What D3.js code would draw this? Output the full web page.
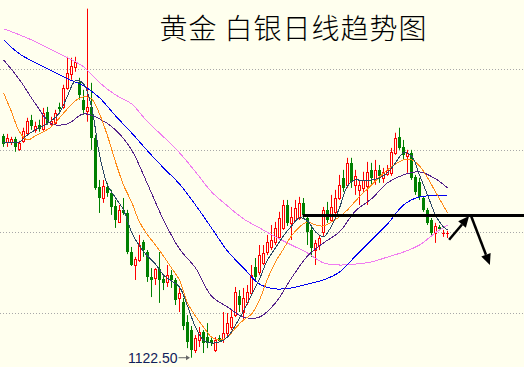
<!DOCTYPE html>
<html>
<head>
<meta charset="utf-8">
<script src="https://cdnjs.cloudflare.com/ajax/libs/d3/7.8.5/d3.min.js"></script>
<style>
  html, body { margin: 0; padding: 0; background: #ffffee; overflow: hidden; }
  svg { display: block; }
</style>
</head>
<body>
<div class="chart"></div>
<script>
/* Chart data
--------------------------------------------------- */
const title = '黄金 白银日线趋势图';

const opens = [
  1258.9, 1255.2, 1255.2, 1257.1, 1250.9, 1255.8, 1260.8, 1268.8, 1262.6, 1265.7,
  1263.3, 1273.7, 1266.3, 1267.0, 1276.7, 1276.7, 1288.4, 1297.0, 1301.4, 1292.2,
  1281.1, 1274.3, 1276.7, 1257.7, 1227.5, 1220.7, 1227.5, 1223.8, 1215.8, 1206.0,
  1213.4, 1211.6, 1187.5, 1179.5, 1182.6, 1193.7, 1187.5, 1172.1, 1171.5, 1177.0,
  1170.9, 1169.1, 1173.3, 1170.3, 1159.2, 1156.8, 1144.5, 1139.5, 1127.2, 1133.4,
  1138.3, 1135.2, 1133.4, 1127.2, 1134.6, 1134.0, 1137.7, 1141.4, 1148.7, 1160.5,
  1150.6, 1156.8, 1162.3, 1178.3, 1175.2, 1180.8, 1187.5, 1190.6, 1193.7, 1196.8,
  1202.3, 1216.4, 1205.4, 1207.2, 1208.4, 1217.7, 1208.4, 1201.1, 1188.7, 1191.8,
  1199.9, 1213.4, 1207.2, 1212.2, 1220.7, 1233.1, 1228.8, 1242.3, 1228.8, 1225.7,
  1226.9, 1228.1, 1238.0, 1231.8, 1238.0, 1233.1, 1235.5, 1236.2, 1248.5, 1258.3,
  1252.1, 1246.6, 1248.5, 1233.7, 1230.6, 1220.7, 1213.4, 1207.2, 1199.3, 1202.9,
  1199.0, 1199.0
];
const closes = [
  1253.9, 1257.7, 1257.1, 1252.1, 1254.6, 1262.0, 1268.2, 1265.1, 1265.1, 1263.3,
  1273.1, 1267.0, 1268.2, 1273.1, 1275.5, 1288.4, 1297.7, 1302.0, 1304.5, 1284.1,
  1274.9, 1276.7, 1257.7, 1226.9, 1220.7, 1228.1, 1223.8, 1215.2, 1207.2, 1213.4,
  1211.6, 1187.5, 1179.5, 1183.2, 1191.8, 1188.7, 1172.1, 1170.3, 1177.0, 1170.3,
  1168.5, 1173.3, 1170.3, 1158.0, 1162.3, 1142.0, 1132.2, 1127.2, 1134.6, 1138.3,
  1131.6, 1131.6, 1131.6, 1133.4, 1132.8, 1137.7, 1143.8, 1147.5, 1162.9, 1154.9,
  1159.2, 1162.9, 1173.3, 1172.1, 1185.6, 1186.9, 1193.7, 1194.9, 1202.3, 1208.4,
  1216.4, 1205.4, 1209.0, 1214.6, 1217.7, 1210.3, 1199.9, 1190.0, 1193.1, 1196.1,
  1213.4, 1207.2, 1215.2, 1220.7, 1228.8, 1226.9, 1242.3, 1230.6, 1234.3, 1228.8,
  1231.8, 1236.8, 1233.1, 1238.0, 1234.3, 1236.8, 1238.0, 1249.1, 1257.7, 1251.5,
  1247.2, 1248.5, 1233.1, 1224.5, 1221.4, 1213.4, 1205.4, 1199.3, 1203.5, 1201.7,
  1199.0, 1199.0
];
const highs = [
  1260.1, 1260.1, 1258.3, 1258.3, 1255.8, 1263.9, 1270.0, 1271.8, 1267.6, 1268.8,
  1276.1, 1276.7, 1270.6, 1274.9, 1279.3, 1290.3, 1307.5, 1306.9, 1307.5, 1294.6,
  1287.2, 1337.1, 1291.5, 1259.5, 1231.8, 1231.8, 1230.0, 1225.7, 1219.5, 1216.4,
  1220.7, 1213.4, 1190.6, 1184.5, 1198.0, 1194.9, 1188.7, 1177.6, 1177.6, 1187.5,
  1172.7, 1179.5, 1176.4, 1171.5, 1165.4, 1159.2, 1148.7, 1142.0, 1136.4, 1141.4,
  1139.5, 1143.8, 1135.8, 1135.2, 1136.4, 1150.6, 1150.0, 1151.8, 1166.0, 1164.1,
  1165.4, 1167.2, 1179.5, 1183.8, 1191.8, 1191.8, 1198.0, 1204.1, 1206.0, 1212.2,
  1219.5, 1219.5, 1215.2, 1219.5, 1221.4, 1220.7, 1210.3, 1204.1, 1194.9, 1198.0,
  1215.2, 1218.3, 1222.6, 1225.7, 1234.9, 1238.0, 1245.4, 1245.4, 1238.0, 1231.8,
  1236.8, 1242.9, 1242.3, 1244.1, 1241.0, 1239.2, 1241.0, 1251.5, 1260.8, 1263.9,
  1256.4, 1250.3, 1250.3, 1234.9, 1233.1, 1221.9, 1214.6, 1208.4, 1205.4, 1204.1,
  1201.1, 1200.5
];
const lows = [
  1252.1, 1252.1, 1253.3, 1249.1, 1249.7, 1254.6, 1259.5, 1262.6, 1260.8, 1261.4,
  1262.0, 1265.7, 1265.1, 1265.7, 1273.7, 1275.5, 1287.2, 1293.4, 1298.3, 1281.1,
  1271.8, 1267.6, 1250.3, 1225.7, 1211.5, 1217.7, 1221.4, 1210.3, 1202.3, 1205.4,
  1210.3, 1186.2, 1178.9, 1170.3, 1181.4, 1184.5, 1169.1, 1159.8, 1167.2, 1156.2,
  1164.1, 1166.0, 1165.4, 1154.9, 1150.6, 1139.5, 1128.4, 1122.5, 1125.4, 1129.1,
  1125.4, 1128.4, 1129.7, 1126.0, 1132.2, 1131.6, 1135.2, 1139.5, 1147.5, 1150.6,
  1145.7, 1154.9, 1161.0, 1169.1, 1173.3, 1179.5, 1185.6, 1188.7, 1191.8, 1194.9,
  1201.1, 1203.5, 1194.9, 1206.0, 1207.2, 1208.4, 1191.8, 1184.5, 1179.5, 1188.7,
  1197.4, 1205.4, 1206.0, 1210.9, 1219.5, 1224.5, 1226.9, 1226.9, 1222.6, 1216.4,
  1224.5, 1216.4, 1228.8, 1228.8, 1230.0, 1230.0, 1234.3, 1234.3, 1247.2, 1250.3,
  1244.1, 1236.2, 1231.8, 1222.6, 1219.5, 1212.2, 1204.1, 1197.4, 1193.1, 1200.5,
  1196.8, 1196.1
];

/* Moving averages, sampled every 2nd or 4th day (last point = last day) */
const ma5 = [
  1254.6, 1254.6, 1255.2, 1259.5, 1262.6, 1265.1, 1268.2, 1273.1, 1283.5, 1292.8,
  1290.9, 1276.8, 1247.2, 1228.7, 1220.8, 1213.4, 1199.9, 1191.2, 1185.0, 1180.1,
  1173.3, 1169.7, 1166.0, 1154.3, 1141.4, 1133.4, 1131.6, 1132.2, 1135.2, 1142.6,
  1151.2, 1161.0, 1170.9, 1182.6, 1190.0, 1197.4, 1203.5, 1208.5, 1206.6, 1199.9,
  1196.8, 1203.5, 1214.6, 1228.1, 1231.8, 1231.2, 1231.8, 1233.1, 1236.2, 1242.3,
  1248.5, 1246.6, 1234.9, 1222.6, 1210.3, 1202.9, 1201.1
];
const ma10 = [
  1285.4, 1273.7, 1261.4, 1256.4, 1258.9, 1261.4, 1264.5, 1270.0, 1275.6, 1280.5,
  1282.9, 1281.7, 1272.4, 1258.9, 1242.9, 1228.7, 1218.3, 1206.0, 1198.0, 1191.8,
  1185.0, 1177.7, 1170.3, 1156.2, 1148.1, 1141.4, 1135.2, 1133.4, 1135.2, 1140.8,
  1145.7, 1149.3, 1158.0, 1170.9, 1181.4, 1189.4, 1197.4, 1202.9, 1206.0, 1204.1,
  1203.5, 1206.0, 1209.1, 1213.4, 1218.9, 1223.9, 1228.7, 1233.7, 1238.0, 1241.6,
  1244.1, 1244.1, 1240.4, 1233.1, 1224.5, 1215.8, 1211.6
];
const ma20 = [
  1305.7, 1293.4, 1278.6, 1266.3, 1266.3, 1272.4, 1269.4, 1262.6, 1250.3, 1229.3,
  1207.2, 1189.4, 1177.7, 1160.4, 1153.7, 1147.5, 1147.5, 1156.2, 1171.5, 1185.0,
  1193.1, 1199.9, 1212.8, 1220.2, 1230.0, 1234.9, 1236.8, 1232.5, 1226.9
];
const ma30 = [
  1318.0, 1309.3, 1303.9, 1298.9, 1294.0, 1289.7, 1282.3, 1271.2, 1260.8, 1249.7,
  1239.2, 1229.3, 1216.4, 1202.3, 1188.1, 1177.7, 1167.8, 1164.8, 1165.4, 1167.8,
  1170.3, 1175.2, 1185.0, 1194.9, 1204.7, 1216.4, 1221.4, 1222.0, 1222.0
];
const ma60 = [
  1324.8, 1321.0, 1316.8, 1311.8, 1306.9, 1301.4, 1291.6, 1284.1, 1278.6, 1267.6,
  1258.3, 1248.5, 1236.8, 1224.5, 1215.8, 1207.9, 1202.3, 1196.8, 1191.8, 1186.9,
  1180.8, 1179.5, 1180.1, 1181.4, 1184.4, 1187.5, 1191.8, 1199.3, 1204.1
];

const gridPrices = [1300, 1250, 1200, 1150];

/* Resistance line and the two hand-drawn arrows (day index, price) */
const resistancePrice = 1210;
const resistanceFrom = 74.8;
const arrowFrom = [[111.4, 1195.0], [116.9, 1209.6]];
const arrowTo = [[116.4, 1209.6], [121.6, 1179.5]];

/* Draw the chart
--------------------------------------------------- */
const width = 524;
const height = 367;
const bg = '#ffffee';
const upColor = '#ff0000';
const downColor = '#008000';

const svg = d3
  .select('.chart')
  .append('svg')
  .attr('width', width)
  .attr('height', height);

svg.append('rect').attr('width', width).attr('height', height).attr('fill', bg);

const x = d3.scaleLinear().domain([0, opens.length - 1]).range([3.5, 447.5]);
const y = d3.scaleLinear().domain([1150, 1300]).range([313, 69]);

// dotted grid
svg
  .selectAll('.grid')
  .data(gridPrices)
  .enter()
  .append('line')
  .attr('x1', 0)
  .attr('x2', width)
  .attr('y1', d => Math.round(y(d)) + 0.5)
  .attr('y2', d => Math.round(y(d)) + 0.5)
  .attr('stroke', '#a8a8a8')
  .attr('stroke-dasharray', '1,2');

// candles
const candles = opens.map((o, i) => ({ i, o, c: closes[i], h: highs[i], l: lows[i] }));
const cg = svg.append('g').attr('class', 'candles');

candles.forEach(d => {
  const cx = x(d.i);
  const top = Math.round(y(Math.max(d.o, d.c)));
  const bot = Math.round(y(Math.min(d.o, d.c)));
  if (d.c >= d.o) {
    cg.append('line')
      .attr('x1', cx).attr('x2', cx)
      .attr('y1', y(d.h)).attr('y2', top + 0.5)
      .attr('stroke', upColor);
    cg.append('line')
      .attr('x1', cx).attr('x2', cx)
      .attr('y1', bot + 0.5).attr('y2', y(d.l))
      .attr('stroke', upColor);
    if (bot - top < 1) {
      cg.append('line')
        .attr('x1', cx - 1.5).attr('x2', cx + 1.5)
        .attr('y1', top + 0.5).attr('y2', top + 0.5)
        .attr('stroke', upColor);
    } else {
      cg.append('rect')
        .attr('x', cx - 1).attr('y', top + 0.5)
        .attr('width', 2).attr('height', bot - top)
        .attr('fill', bg)
        .attr('stroke', upColor);
    }
  } else {
    cg.append('line')
      .attr('x1', cx).attr('x2', cx)
      .attr('y1', y(d.h)).attr('y2', y(d.l))
      .attr('stroke', downColor);
    cg.append('rect')
      .attr('x', cx - 1.5).attr('y', top)
      .attr('width', 3).attr('height', Math.max(1, bot - top))
      .attr('fill', downColor);
  }
});

// moving averages
const lastDay = opens.length - 1;
const maSeries = [
  { values: ma60, step: 4, color: '#f07cf0' },
  { values: ma30, step: 4, color: '#0000f0' },
  { values: ma20, step: 4, color: '#55228a' },
  { values: ma10, step: 2, color: '#ff8c1a' },
  { values: ma5, step: 2, color: '#2c4866' },
];

const maLine = d3
  .line()
  .curve(d3.curveCatmullRom.alpha(0.5))
  .x(d => x(d.i))
  .y(d => y(d.v));

svg
  .selectAll('.ma')
  .data(maSeries)
  .enter()
  .append('path')
  .attr('class', 'ma')
  .attr('fill', 'none')
  .attr('stroke', d => d.color)
  .attr('stroke-width', 1)
  .attr('shape-rendering', 'crispEdges')
  .attr('d', s => maLine(s.values.map((v, k) => ({ i: Math.min(k * s.step, lastDay), v }))));

// resistance line
svg
  .append('line')
  .attr('x1', x(resistanceFrom))
  .attr('x2', width)
  .attr('y1', y(resistancePrice))
  .attr('y2', y(resistancePrice))
  .attr('stroke', '#000')
  .attr('stroke-width', 3);

// arrows
function drawArrow(x1, y1, x2, y2, headLen, headW, thick, color) {
  const ang = Math.atan2(y2 - y1, x2 - x1);
  const bx = x2 - headLen * Math.cos(ang);
  const by = y2 - headLen * Math.sin(ang);
  const nx = -Math.sin(ang) * headW;
  const ny = Math.cos(ang) * headW;
  svg
    .append('line')
    .attr('x1', x1).attr('y1', y1)
    .attr('x2', bx).attr('y2', by)
    .attr('stroke', color)
    .attr('stroke-width', thick);
  svg
    .append('polygon')
    .attr('points', `${x2},${y2} ${bx + nx},${by + ny} ${bx - nx},${by - ny}`)
    .attr('fill', color);
}

arrowFrom.forEach((f, k) => {
  const t = arrowTo[k];
  drawArrow(x(f[0]), y(f[1]), x(t[0]), y(t[1]), 11, 5, 2.5, '#000');
});

// lowest low marker
const lowIdx = d3.minIndex(lows);
const lowX = x(lowIdx);
const lowY = y(lows[lowIdx]);
drawArrow(lowX - 13, lowY, lowX - 1.5, lowY, 4, 2.5, 1, '#666');

svg
  .append('text')
  .attr('x', lowX - 14)
  .attr('y', lowY + 5)
  .attr('text-anchor', 'end')
  .attr('font-family', '"Liberation Sans", Arial, sans-serif')
  .attr('font-size', 14)
  .attr('fill', '#10205a')
  .text(d3.format('.2f')(lows[lowIdx]));

// title
svg
  .append('text')
  .attr('x', 293.5)
  .attr('y', 39)
  .attr('text-anchor', 'middle')
  .attr('font-family', '"Noto Sans CJK SC", "Noto Sans", sans-serif')
  .attr('font-size', 28)
  .attr('font-weight', 300)
  .attr('letter-spacing', 1)
  .attr('fill', '#000')
  .attr('xml:space', 'preserve')
  .text(title);
</script>
</body>
</html>
